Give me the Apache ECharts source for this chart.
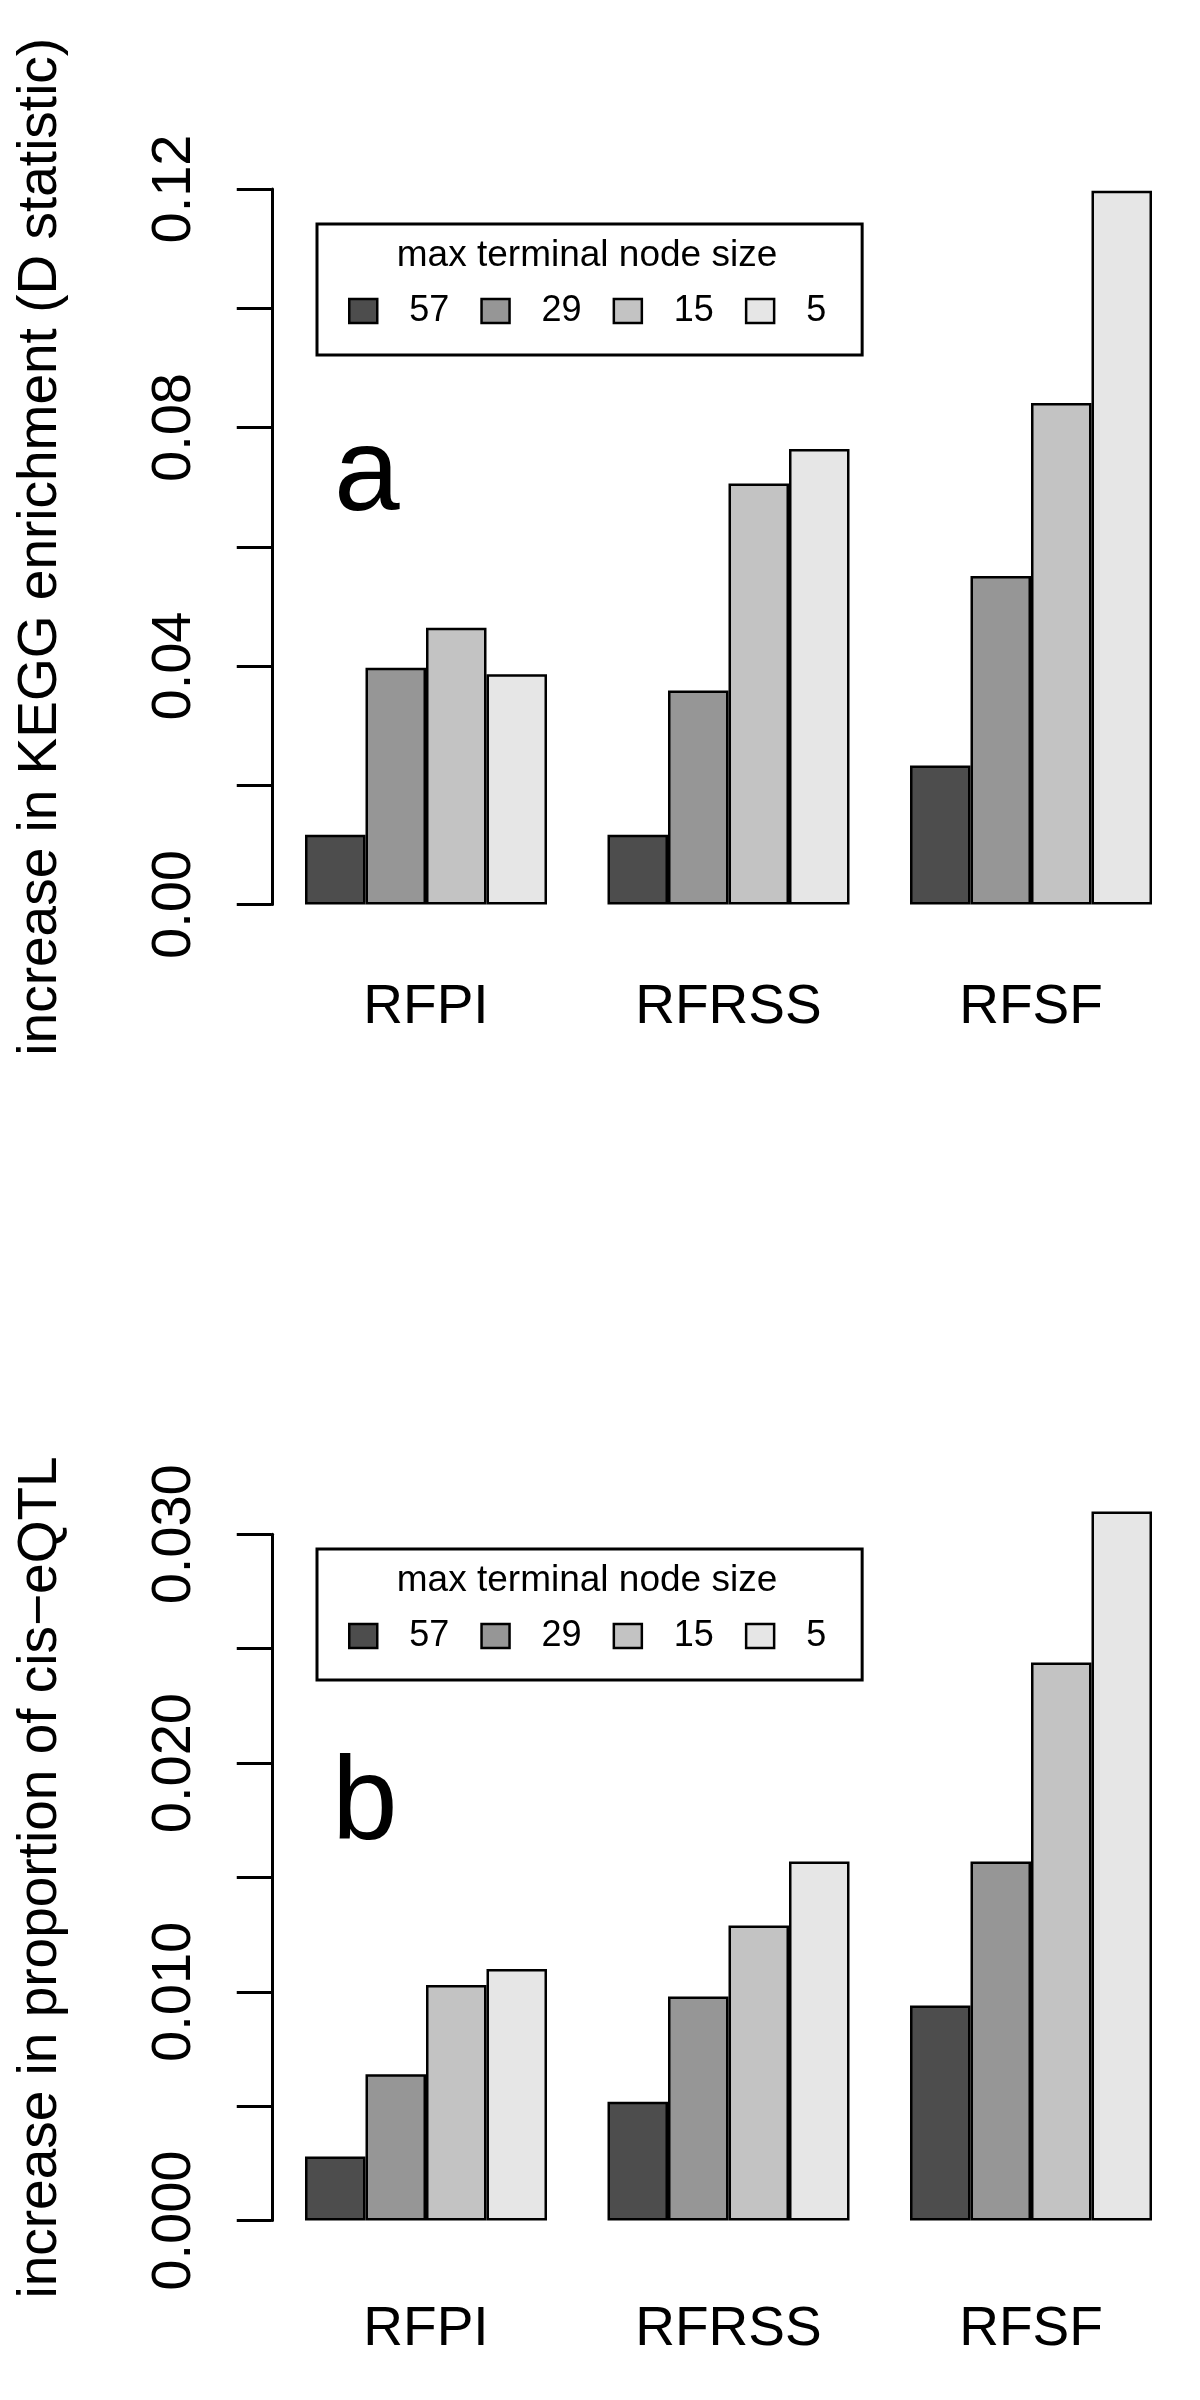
<!DOCTYPE html>
<html>
<head>
<meta charset="utf-8">
<script src="https://cdn.jsdelivr.net/npm/echarts@6/dist/echarts.min.js"></script>
<style>
html,body{margin:0;padding:0;background:#fff;}
#chart{width:1200px;height:2400px;}
</style>
</head>
<body>
<div id="chart"></div>
<script>
// ---- data ----
const categories = ['RFPI', 'RFRSS', 'RFSF'];
const sizeLabels = ['57', '29', '15', '5'];
const sizeColors = ['#4D4D4D', '#969696', '#C3C3C3', '#E6E6E6'];

const keggIncrease57 = [0.0117, 0.0117, 0.0233];
const keggIncrease29 = [0.0397, 0.0359, 0.0551];
const keggIncrease15 = [0.0464, 0.0706, 0.0841];
const keggIncrease5  = [0.0386, 0.0764, 0.1197];

const eqtlIncrease57 = [0.0028, 0.0052, 0.0094];
const eqtlIncrease29 = [0.0064, 0.0098, 0.0157];
const eqtlIncrease15 = [0.0103, 0.0129, 0.0244];
const eqtlIncrease5  = [0.0110, 0.0157, 0.0310];

const keggTickLabels = ['0.00', '0.04', '0.08', '0.12'];
const eqtlTickLabels = ['0.000', '0.010', '0.020', '0.030'];

const legendTitle = 'max terminal node size';
const panelLetters = ['a', 'b'];
const yTitles = ['increase in KEGG enrichment (D statistic)', 'increase in proportion of cis\u2212eQTL'];

// ---- chart ----
const FONT = "'Liberation Sans', Arial, Helvetica, sans-serif";
const chart = echarts.init(document.getElementById('chart'), null, {renderer: 'canvas'});

const keggSeries = [keggIncrease57, keggIncrease29, keggIncrease15, keggIncrease5];
const eqtlSeries = [eqtlIncrease57, eqtlIncrease29, eqtlIncrease15, eqtlIncrease5];

function makeSeries(dataSets, axisIdx) {
  return dataSets.map((d, i) => ({
    type: 'bar',
    name: sizeLabels[i],
    xAxisIndex: axisIdx,
    yAxisIndex: axisIdx,
    data: d,
    barGap: '0%',
    barCategoryGap: '20%',
    clip: false,
    itemStyle: {color: sizeColors[i], borderColor: '#000', borderWidth: 2.5},
    emphasis: {disabled: true},
    silent: true
  }));
}

function yAxis(gridIdx, max, interval, labels, digits, name) {
  return {
    type: 'value', gridIndex: gridIdx, min: 0, max: max, interval: interval,
    offset: 3,
    name: name, nameLocation: 'middle', nameRotate: 90, nameGap: 203,
    nameTextStyle: {fontFamily: FONT, fontSize: 55, color: '#000'},
    axisLine: {show: true, lineStyle: {color: '#000', width: 3}},
    axisTick: {show: true, inside: false, length: 35, lineStyle: {color: '#000', width: 3}},
    splitLine: {show: false},
    axisLabel: {
      rotate: 90, margin: 69, fontFamily: FONT, fontSize: 56, color: '#000',
      formatter: v => { const s = v.toFixed(digits); return labels.includes(s) ? s : ''; }
    }
  };
}

function xAxis(gridIdx, margin) {
  return {
    type: 'category', gridIndex: gridIdx, data: categories,
    axisLine: {show: false}, axisTick: {show: false}, splitLine: {show: false},
    axisLabel: {margin: margin, fontFamily: FONT, fontSize: 55, color: '#000', interval: 0}
  };
}

function legend(top) {
  return {
    left: 317, top: top, orient: 'horizontal',
    data: sizeLabels,
    selectedMode: false,
    padding: [69, 36, 26, 31],
    borderColor: '#000', borderWidth: 3,
    itemWidth: 28, itemHeight: 24, itemGap: 31,
    icon: 'rect',
    itemStyle: {borderColor: '#000', borderWidth: 2.5},
    textStyle: {fontFamily: FONT, fontSize: 36, color: '#000', padding: [0, 0, 0, 27]}
  };
}

const option = {
  animation: false,
  backgroundColor: '#fff',
  title: [
    {text: legendTitle, left: 587, top: 237, textAlign: 'center', padding: 0,
     textStyle: {fontFamily: FONT, fontSize: 37, fontWeight: 'normal', color: '#000'}},
    {text: legendTitle, left: 587, top: 1562, textAlign: 'center', padding: 0,
     textStyle: {fontFamily: FONT, fontSize: 37, fontWeight: 'normal', color: '#000'}},
    {text: panelLetters[0], left: 334, top: 418, padding: 0,
     textStyle: {fontFamily: FONT, fontSize: 118, fontWeight: 'normal', color: '#000'}},
    {text: panelLetters[1], left: 332, top: 1747, padding: 0,
     textStyle: {fontFamily: FONT, fontSize: 118, fontWeight: 'normal', color: '#000'}}
  ],
  legend: [legend(224), legend(1549)],
  grid: [
    {left: 274.75, top: 189, width: 907.5, height: 715.5, containLabel: false},
    {left: 274.75, top: 1534.3, width: 907.5, height: 686.3, containLabel: false}
  ],
  xAxis: [xAxis(0, 76), xAxis(1, 82)],
  yAxis: [
    yAxis(0, 0.12, 0.02, keggTickLabels, 2, yTitles[0]),
    yAxis(1, 0.030, 0.005, eqtlTickLabels, 3, yTitles[1])
  ],
  series: makeSeries(keggSeries, 0).concat(makeSeries(eqtlSeries, 1))
};
chart.setOption(option);
</script>
</body>
</html>
